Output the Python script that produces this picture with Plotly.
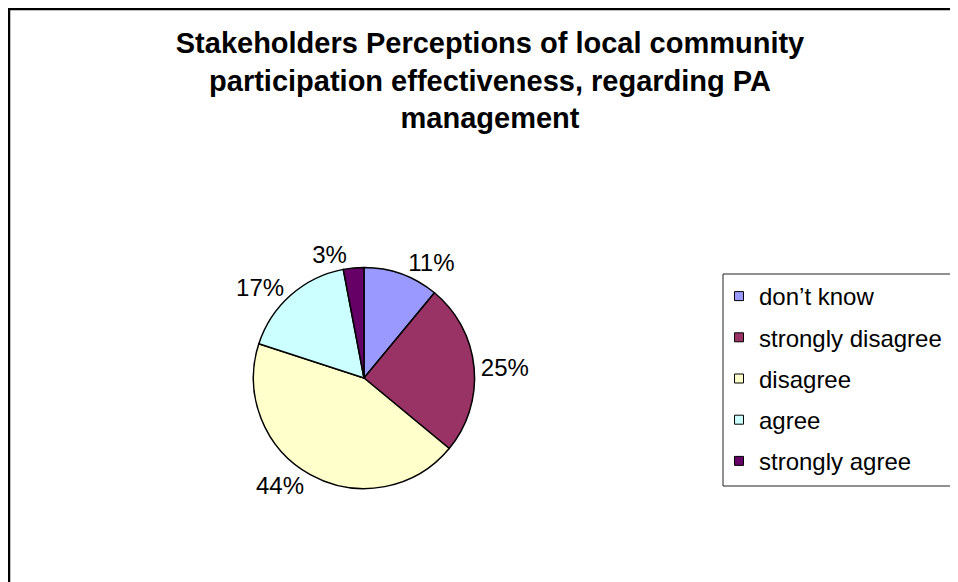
import plotly.graph_objects as go

# survey answers, clockwise from 12 o'clock
labels = ["don\u2019t know", "strongly disagree", "disagree", "agree", "strongly agree"]
shares = [11, 25, 44, 17, 3]
colors = ["#9999FF", "#993366", "#FFFFCC", "#CCFFFF", "#660066"]

TITLE = ("Stakeholders Perceptions of local community<br>"
         "participation effectiveness, regarding PA<br>management")
FONT = "Arial, Liberation Sans, sans-serif"
W, H = 958, 582
OFF = 8  # page body margin shifts the figure by 8px


def px(x):
    return (x - OFF) / W


def py(y):
    return 1 - (y - OFF) / H


fig = go.Figure()

# pie centre ~ (364, 378) on screen
cx, cy, half = px(364), py(378), 0.19
fig.add_trace(go.Pie(
    labels=labels,
    values=shares,
    sort=False,
    direction="clockwise",
    marker=dict(colors=colors, line=dict(color="black", width=1.5)),
    textinfo="percent",
    textposition="outside",
    texttemplate="%{percent:.0%}",
    textfont=dict(family=FONT, size=24, color="black"),
    domain=dict(x=[cx - half * H / W, cx + half * H / W], y=[cy - half, cy + half]),
    showlegend=False,
    hoverinfo="label+percent",
))

# legend entries as square markers so the row spacing can be set
for name, col in zip(labels, colors):
    fig.add_trace(go.Scatter(
        x=[None], y=[None], mode="markers", name=name, legendgroup=name,
        marker=dict(symbol="square", size=9, color=col, line=dict(color="black", width=1)),
    ))

fig.update_layout(
    width=W,
    height=H,
    margin=dict(l=0, r=0, t=0, b=0),
    paper_bgcolor="white",
    plot_bgcolor="white",
    font=dict(family=FONT, color="black"),
    title=dict(
        text=TITLE,
        font=dict(family=FONT, size=29, color="black", weight="bold"),
        x=px(490), xanchor="center",
        y=py(53), yanchor="top",
    ),
    xaxis=dict(visible=False),
    yaxis=dict(visible=False),
    legend=dict(
        x=px(719), xanchor="left",
        y=py(274), yanchor="top",
        font=dict(family=FONT, size=24, color="black"),
        tracegroupgap=7,
        bgcolor="rgba(0,0,0,0)",
        borderwidth=0,
    ),
    shapes=[
        # outer chart frame (runs off right and bottom edges)
        dict(type="rect", xref="paper", yref="paper",
             x0=1 / W, x1=1.05, y0=-0.05, y1=1 - 1 / H,
             line=dict(color="black", width=2.5), layer="below"),
        # legend box
        dict(type="rect", xref="paper", yref="paper",
             x0=px(723), x1=1.05, y0=py(486), y1=py(274),
             line=dict(color="#222222", width=1), layer="below"),
    ],
)

fig.write_html("out.html")
